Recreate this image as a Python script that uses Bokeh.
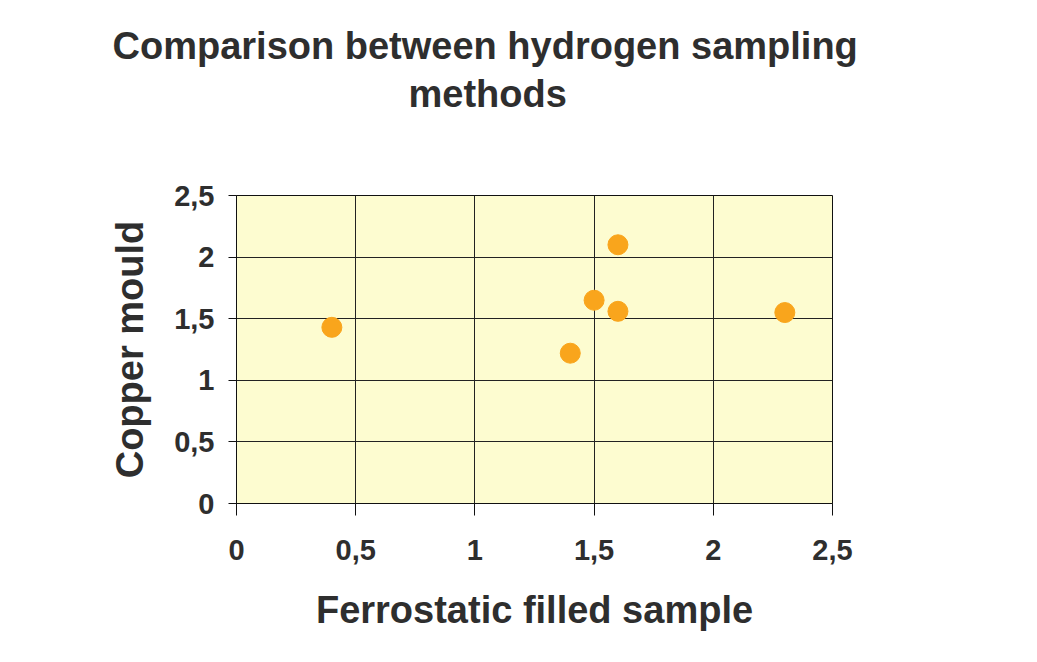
from bokeh.plotting import figure
from bokeh.models import FixedTicker, CustomJSTickFormatter, Title, ColumnDataSource
from bokeh.embed import file_html
from bokeh.resources import INLINE

# Data
ferrostatic = [0.40, 1.40, 1.50, 1.60, 1.60, 2.30]
copper = [1.43, 1.22, 1.65, 1.56, 2.10, 1.55]
tick_values = [0, 0.5, 1, 1.5, 2, 2.5]
title_lines = ["Comparison between hydrogen sampling", "methods"]
x_label = "Ferrostatic filled sample"
y_label = "Copper mould"

FONT = "Liberation Sans"
TEXT = "#2e2e2e"

src = ColumnDataSource(dict(x=ferrostatic, y=copper))

p = figure(width=1021, height=646, x_range=(0, 2.5), y_range=(0, 2.5),
           output_backend="svg", toolbar_location=None,
           min_border_left=236, min_border_right=189,
           min_border_top=195, min_border_bottom=143)

p.background_fill_color = "#FDFCD0"
p.border_fill_color = "white"
p.outline_line_color = "#111111"
p.outline_line_width = 1

for g in (p.xgrid, p.ygrid):
    g.grid_line_color = "#222222"
    g.grid_line_width = 1
    g.ticker = FixedTicker(ticks=tick_values)

fmt = CustomJSTickFormatter(code="return tick.toString().replace('.', ',');")
for ax in (p.xaxis, p.yaxis):
    ax.ticker = FixedTicker(ticks=tick_values)
    ax.formatter = fmt
    ax.axis_line_color = "#111111"
    ax.major_tick_line_color = "#111111"
    ax.major_tick_in = 0
    ax.minor_tick_line_color = None
    ax.major_label_text_font = FONT
    ax.major_label_text_font_style = "bold"
    ax.major_label_text_font_size = "29px"
    ax.major_label_text_color = TEXT
    ax.axis_label_text_font = FONT
    ax.axis_label_text_font_style = "bold"
    ax.axis_label_text_font_size = "38px"
    ax.axis_label_text_color = TEXT

p.xaxis.major_tick_out = 12
p.xaxis.major_label_standoff = 24
p.xaxis.axis_label = x_label
p.xaxis.axis_label_standoff = 26

p.yaxis.major_tick_out = 8
p.yaxis.major_label_standoff = 14
p.yaxis.axis_label = y_label
p.yaxis.axis_label_standoff = 20

p.scatter("x", "y", source=src, size=20, fill_color="#F9A51C",
          line_color="#F9A51C")

# spacer between plot and the two title lines
p.add_layout(Title(text=" ", text_font=FONT, text_font_size="71px",
                   standoff=0), "above")
# second line first (closest to the plot), then first line above it
for txt, off, so in ((title_lines[1], 172, 0), (title_lines[0], -124, 7)):
    p.add_layout(Title(text=txt, align="left", offset=off,
                       text_font=FONT, text_font_style="bold",
                       text_font_size="38px", text_color=TEXT,
                       standoff=so), "above")

open("out.html", "w").write(file_html(p, INLINE))
